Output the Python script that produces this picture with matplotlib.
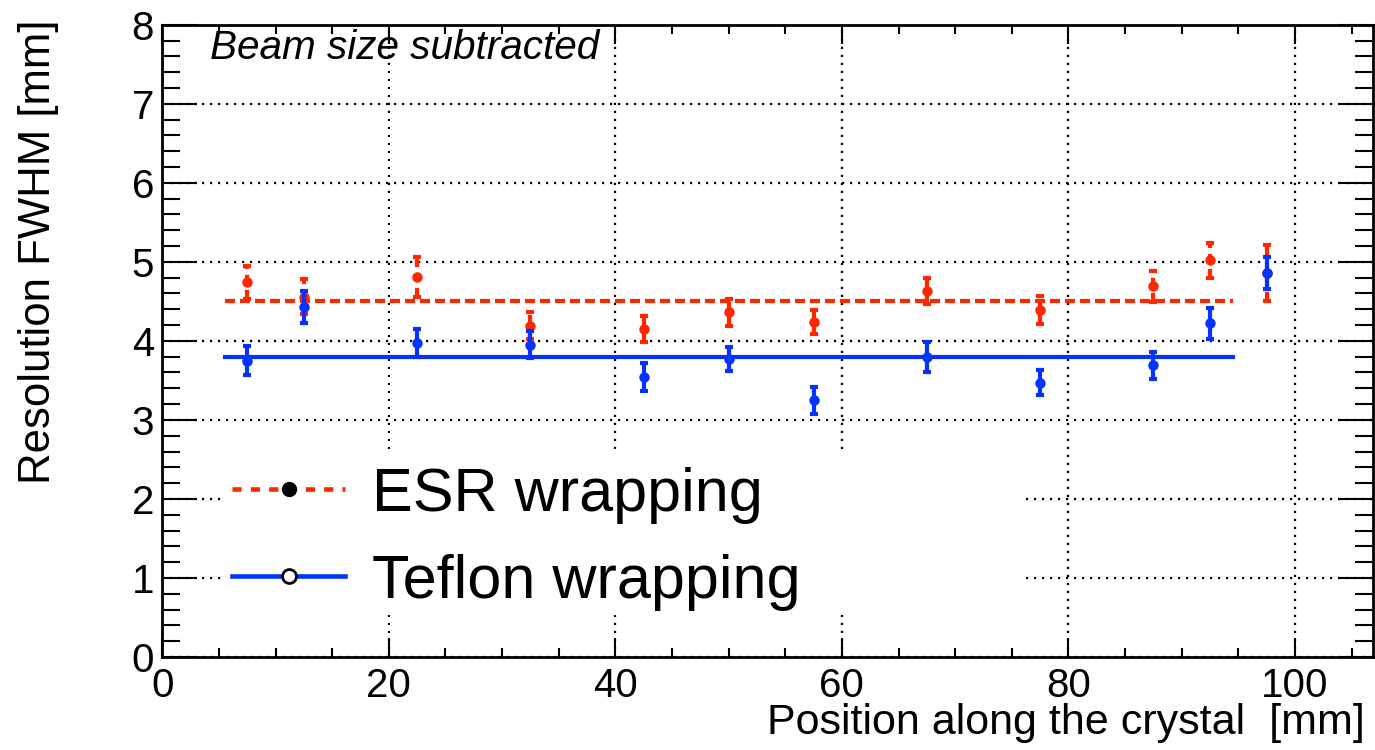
import matplotlib
matplotlib.use("Agg")
import matplotlib.pyplot as plt
from matplotlib.lines import Line2D
from matplotlib.patches import Rectangle
from matplotlib.ticker import MultipleLocator

plt.rcParams['font.family'] = ['Liberation Sans', 'DejaVu Sans']

# scan positions along the crystal [mm]
position = [7.5, 12.5, 22.5, 32.5, 42.5, 50, 57.5, 67.5, 77.5, 87.5, 92.5, 97.5]

# FWHM resolution, beam size subtracted [mm]
esr = [4.74, 4.56, 4.81, 4.19, 4.15, 4.36, 4.24, 4.63, 4.39, 4.69, 5.02, 4.86]
esr_err = [0.21, 0.22, 0.25, 0.17, 0.17, 0.17, 0.15, 0.16, 0.18, 0.20, 0.22, 0.35]
teflon = [3.75, 4.43, 3.97, 3.95, 3.54, 3.77, 3.25, 3.80, 3.47, 3.69, 4.22, 4.86]
teflon_err = [0.18, 0.20, 0.18, 0.17, 0.18, 0.15, 0.17, 0.19, 0.16, 0.17, 0.19, 0.20]

# constant fits and their range
fit_range = [5.5, 94.5]
esr_fit = 4.51
teflon_fit = 3.79

RED = "#ff2600"
BLUE = "#0433ff"

fig = plt.figure(figsize=(13.75, 7.5), dpi=100)
ax = fig.add_axes([0.118, 0.124, 0.8807, 0.843])

# ESR graph: dashed error bars, dashed fit
eb = ax.errorbar(position, esr, yerr=esr_err, fmt='o', color=RED, ms=6.5,
                 elinewidth=3, capsize=3, capthick=3, zorder=3)
eb[2][0].set_linestyle((0, (2.2, 1.4)))
ax.plot(fit_range, [esr_fit, esr_fit], color=RED, lw=3,
        dashes=(2.4, 1.2), zorder=3)

# Teflon graph: solid
ax.errorbar(position, teflon, yerr=teflon_err, fmt='o', color=BLUE, ms=6.5,
            elinewidth=3, capsize=3, capthick=3, zorder=4)
ax.plot(fit_range, [teflon_fit, teflon_fit], color=BLUE, lw=3, zorder=4)

ax.set_xlim(0, 106.9)
ax.set_ylim(0, 8)
ax.xaxis.set_major_locator(MultipleLocator(20))
ax.xaxis.set_minor_locator(MultipleLocator(5))
ax.yaxis.set_major_locator(MultipleLocator(1))
ax.yaxis.set_minor_locator(MultipleLocator(0.2))

ax.set_axisbelow(True)
ax.grid(True, which='major', color='black', lw=1.6, linestyle=(0, (1, 2.6)))

for s in ax.spines.values():
    s.set_linewidth(2)
ax.tick_params(which='both', direction='in', top=True, right=True,
               width=1.5, labelsize=29)
ax.tick_params(axis='x', which='major', length=14, pad=7)
ax.tick_params(axis='x', which='minor', length=6.5)
ax.tick_params(axis='y', which='major', length=25, pad=6)
ax.tick_params(axis='y', which='minor', length=13)

ax.set_xlabel("Position along the crystal  [mm]", fontsize=31)
ax.xaxis.label.set(ha='right', va='top')
ax.xaxis.set_label_coords(0.9934, -0.072)
ax.set_ylabel("Resolution FWHM [mm]", fontsize=31.5)
ax.yaxis.label.set(rotation_mode='default', ha='center', va='top')
ax.yaxis.set_label_coords(-0.1024, 1.008)

ax.text(0.0396, 0.9636, "Beam size subtracted", transform=ax.transAxes,
        fontsize=29.2, style='italic', ha='left', va='center')

# legend box hides the grid behind it
ax.add_patch(Rectangle((0.0495, 0.0665), 0.663, 0.261, transform=ax.transAxes,
                       facecolor='white', edgecolor='none', zorder=1))
handles = [
    Line2D([], [], color=RED, lw=3.3, dashes=(2, 2), marker='o', ms=10,
           markerfacecolor='black', markeredgecolor='black'),
    Line2D([], [], color=BLUE, lw=3.3, marker='o', ms=10,
           markerfacecolor='white', markeredgecolor='black', markeredgewidth=2),
]
ax.legend(handles, ["ESR wrapping", "Teflon wrapping"], loc='upper left',
          bbox_to_anchor=(0.0578, 0.301), frameon=False, fontsize=44,
          handlelength=1.85, handletextpad=0.44, labelspacing=0.49,
          borderpad=0, borderaxespad=0)

fig.savefig("out.png", dpi=100)
